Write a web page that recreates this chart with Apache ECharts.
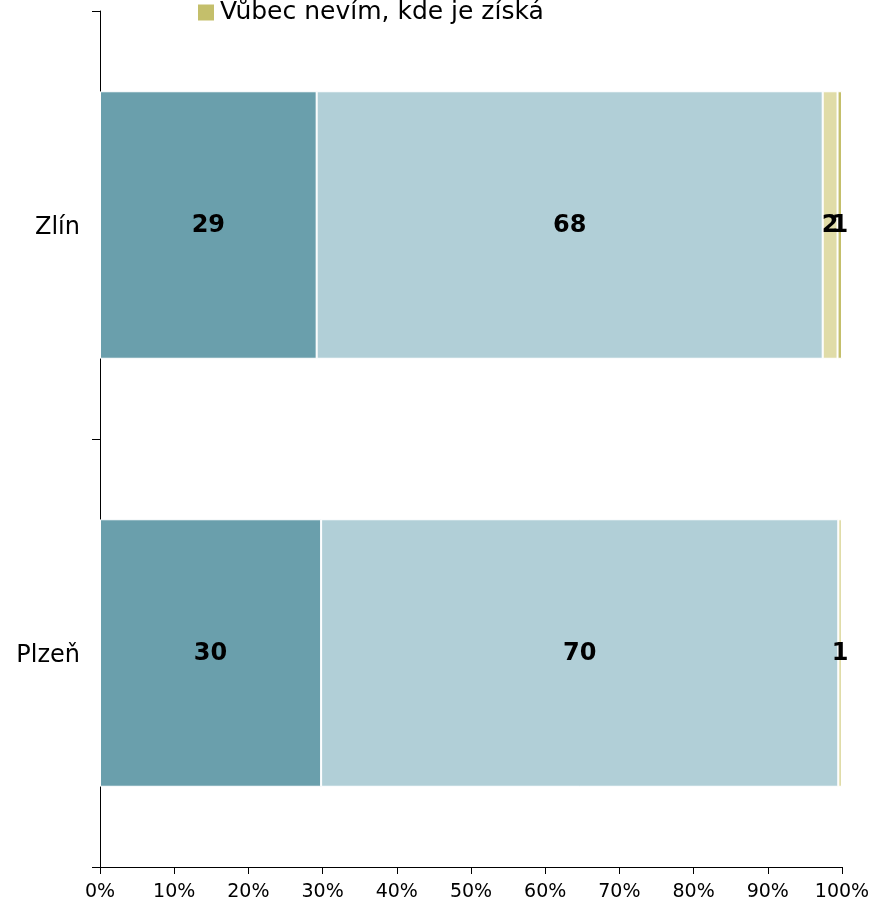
<!DOCTYPE html>
<html>
<head>
<meta charset="utf-8">
<script src="https://cdn.jsdelivr.net/npm/echarts@6/dist/echarts.min.js"></script>
<style>html,body{margin:0;padding:0;background:#fff}#c{width:874px;height:906px}</style>
</head>
<body>
<div id="c"></div>
<script>
const categories = ['Zlín', 'Plzeň'];
const seriesNames = ['Určitě vím, kde je získá', 'Spíše vím, kde je získá', 'Spíše nevím, kde je získá', 'Vůbec nevím, kde je získá'];
const s1 = [29.2, 29.8];
const s2 = [68.2, 69.7];
const s3 = [2.0, 0.5];
const s4 = [0.6, 0];
const xTicks = [0, 10, 20, 30, 40, 50, 60, 70, 80, 90, 100];
const colors = ['#6a9fac', '#b1cfd7', '#e0dca8', '#c4bf6b'];

const values = [s1, s2, s3, s4];
const chart = echarts.init(document.getElementById('c'), null, {renderer: 'canvas'});
chart.setOption({
  animation: false,
  backgroundColor: '#fff',
  legend: {
    data: [seriesNames[3]],
    left: 191,
    top: -5,
    itemWidth: 18,
    itemHeight: 18,
    icon: 'rect',
    itemGap: 6,
    textStyle: {fontFamily: 'DejaVu Sans', fontSize: 25, color: '#000'}
  },
  grid: {left: 100, right: 32, top: 11, bottom: 39, containLabel: false},
  xAxis: {
    type: 'value',
    min: xTicks[0],
    max: xTicks[xTicks.length - 1],
    interval: 10,
    splitLine: {show: false},
    axisLine: {show: true, lineStyle: {color: '#000', width: 1}},
    axisTick: {show: true, length: 7, lineStyle: {color: '#000'}},
    axisLabel: {formatter: '{value}%', fontFamily: 'DejaVu Sans', fontSize: 19, color: '#000', margin: 16}
  },
  yAxis: {
    type: 'category',
    data: categories,
    inverse: true,
    axisLine: {show: true, lineStyle: {color: '#000', width: 1}},
    axisTick: {show: true, length: 8, lineStyle: {color: '#000'}},
    axisLabel: {
      fontFamily: 'DejaVu Sans', fontSize: 24, color: '#000', margin: 20,
      formatter: v => '{a|' + v + '}',
      rich: {a: {fontFamily: 'DejaVu Sans', fontSize: 24, color: '#000', padding: [6, 0, 0, 0]}}
    }
  },
  series: values.map((v, i) => ({
    name: seriesNames[i],
    type: 'bar',
    stack: 'total',
    barCategoryGap: '37.5%',
    data: v,
    itemStyle: {color: colors[i], borderColor: '#fff', borderWidth: 1},
    label: {
      show: true,
      position: 'inside',
      fontFamily: 'DejaVu Sans',
      fontWeight: 'bold',
      fontSize: 24,
      color: '#000',
      offset: [0, 1],
      formatter: p => p.value > 0 ? String(Math.round(p.value)) : ''
    }
  }))
});
</script>
</body>
</html>
